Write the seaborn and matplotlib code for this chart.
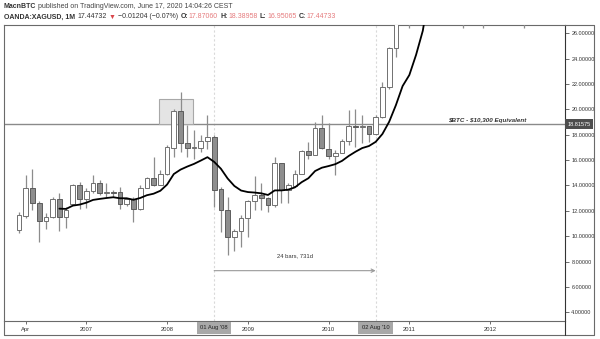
import numpy as np
import pandas as pd
import matplotlib
matplotlib.use("Agg")
import matplotlib.pyplot as plt
import seaborn as sns
from matplotlib.patches import Rectangle
from matplotlib.lines import Line2D
import matplotlib.transforms as mtransforms

# ---------------- data (monthly OANDA:XAGUSD, Mar 2006 .. Dec 2012) ----------------
open_ = [10.45, 11.57, 13.79, 12.61, 11.16, 11.50, 12.90, 11.50, 12.51, 14.01,
         12.96, 13.56, 14.19, 13.43, 13.46, 13.48, 12.51, 12.92, 12.12, 13.83,
         14.58, 14.06, 14.88, 16.99, 19.88, 17.35, 16.96, 16.96, 17.49, 17.83,
         13.69, 12.09, 9.92, 10.40, 11.45, 12.74, 13.22, 13.04, 12.48, 15.77,
         13.67, 13.93, 14.93, 16.70, 16.43, 18.57, 16.90, 16.30, 16.56, 17.51,
         18.67, 18.62, 18.67, 18.04, 19.41, 21.78, 24.81, 28.20, 30.90, 27.90,
         33.90, 37.90, 48.60, 38.40, 35.00, 40.10, 41.50, 30.30, 34.60, 32.70,
         28.10, 33.20, 34.50, 32.40, 31.10, 28.30, 27.60, 27.90, 31.00, 34.50,
         32.30, 32.60]
high = [11.90, 14.80, 15.33, 12.80, 11.82, 13.08, 13.38, 12.29, 14.14, 14.27,
        13.77, 14.80, 14.40, 14.17, 13.67, 13.87, 13.05, 13.08, 14.00, 14.70,
        16.26, 15.19, 17.17, 20.00, 21.38, 18.75, 18.35, 17.96, 19.54, 17.96,
        13.90, 13.08, 10.53, 11.64, 12.82, 14.72, 14.17, 13.10, 16.25, 15.80,
        14.17, 15.19, 16.77, 17.43, 19.01, 19.54, 18.89, 16.77, 17.64, 19.94,
        20.00, 19.54, 18.67, 19.54, 22.17, 24.94, 29.30, 31.00, 31.00, 34.00,
        38.00, 49.80, 48.70, 38.90, 40.80, 44.20, 43.40, 35.50, 35.50, 33.60,
        33.90, 37.50, 35.40, 33.00, 31.70, 29.30, 28.50, 31.00, 35.40, 35.00,
        34.40, 33.90]
low = [10.27, 11.45, 12.03, 9.53, 10.53, 11.40, 10.37, 10.63, 12.45, 12.17,
       12.19, 13.38, 13.22, 13.08, 13.08, 12.17, 12.40, 11.11, 12.07, 13.77,
       13.93, 14.00, 14.80, 16.25, 16.64, 16.22, 16.12, 16.64, 16.90, 12.29,
       10.32, 8.53, 8.87, 9.13, 9.92, 12.03, 12.03, 11.87, 12.27, 12.61,
       12.60, 13.85, 14.88, 16.12, 16.38, 16.85, 16.12, 14.80, 16.54, 17.17,
       17.00, 17.35, 17.43, 17.96, 19.35, 21.60, 24.15, 27.50, 26.45, 27.80,
       32.50, 37.50, 32.30, 33.50, 33.80, 37.90, 26.45, 29.00, 30.30, 26.45,
       27.90, 32.90, 31.80, 30.60, 26.90, 26.45, 26.70, 27.00, 30.90, 31.20,
       31.00, 29.60]
close = [11.64, 13.79, 12.61, 11.19, 11.48, 12.97, 11.50, 12.03, 14.01, 12.96,
         13.56, 14.19, 13.43, 13.46, 13.42, 12.51, 12.96, 12.12, 13.83, 14.58,
         14.06, 14.93, 17.01, 19.88, 17.33, 16.96, 16.98, 17.49, 17.83, 13.67,
         12.09, 9.92, 10.40, 11.45, 12.74, 13.22, 13.04, 12.48, 15.77, 13.61,
         14.00, 14.93, 16.70, 16.43, 18.57, 16.96, 16.30, 16.56, 17.51, 18.67,
         18.62, 18.67, 18.04, 19.41, 21.78, 24.81, 28.20, 30.90, 27.90, 33.90,
         37.90, 48.60, 38.40, 35.00, 40.10, 41.50, 30.30, 34.60, 32.70, 28.10,
         33.20, 34.50, 32.40, 31.10, 28.30, 27.60, 27.90, 31.00, 34.50, 32.30,
         32.60, 30.00]
# smoothed moving average (black line)
ma_line = [np.nan] * 6 + [
    12.17, 12.15, 12.41, 12.49, 12.64, 12.86, 12.94, 13.01, 13.07, 12.99,
    12.99, 12.87, 13.01, 13.23, 13.35, 13.58, 14.07, 14.90, 15.25, 15.49,
    15.70, 15.96, 16.23, 15.86, 15.32, 14.55, 13.96, 13.60, 13.48, 13.44,
    13.38, 13.25, 13.61, 13.61, 13.67, 13.85, 14.26, 14.57, 15.14, 15.40,
    15.53, 15.68, 15.94, 16.33, 16.66, 16.95, 17.11, 17.44, 18.06, 19.02,
    20.33, 21.84, 22.71, 24.30, 26.20, 29.40, 31.80]
ma_line = ma_line + [np.nan] * (len(close) - len(ma_line))

months = pd.period_range("2006-03", periods=len(close), freq="M")
xtick_months = ["2006-04", "2007-01", "2008-01", "2009-01", "2010-01", "2011-01", "2012-01"]
xtick_labels = ["Apr", "2007", "2008", "2009", "2010", "2011", "2012"]
yticks = [4, 6, 8, 10, 12, 14, 16, 18, 20, 22, 24, 26]
level_value = 18.81575
level_text = "$BTC - $10,300 Equivalent"
range_start, range_end = "2008-08", "2010-08"
range_start_label, range_end_label = "01 Aug '08", "02 Aug '10"
range_text = "24 bars, 731d"
range_arrow_price = 7.28
range_text_price = 8.46
box_top_price = 20.80

# ---------------- styling ----------------
sns.set_style("white")
plt.rcParams['font.family'] = ['Liberation Sans', 'DejaVu Sans']

df = pd.DataFrame({"idx": np.arange(len(close)), "open": open_, "high": high,
                   "low": low, "close": close, "ma": ma_line})
pos = {str(m): i for i, m in enumerate(months)}

W, H = 600, 339
fig = plt.figure(figsize=(W / 100, H / 100), dpi=100)
fig.patch.set_facecolor("white")
L, R, T, B = 4, 565, 25, 321
ax = fig.add_axes([L / W, 1 - B / H, (R - L) / W, (B - T) / H])
ax.set_facecolor("white")

# vertical dotted lines of the date range tool
for key in (range_start, range_end):
    ax.axvline(pos[key], color="#d9d9d9", lw=0.8, ls=(0, (2, 2)), zorder=1)

# horizontal level
ax.axhline(level_value, color="#8a8a8a", lw=1.0, zorder=1.5)

# rectangle around 2008 top
ax.add_patch(Rectangle((pos["2007-12"] - 0.15, level_value), 5.05, box_top_price - level_value,
                       facecolor="#e4e4e4", edgecolor="#a8a8a8", lw=0.8, zorder=1.6))

# candles
up = df["close"] >= df["open"]
ax.vlines(df["idx"], df["low"], df["high"], color="#8c8c8c", lw=0.9, zorder=3)
body_bottom = np.minimum(df["open"], df["close"])
body_h = np.maximum(np.abs(df["close"] - df["open"]), 0.04)
ax.bar(df["idx"], body_h, bottom=body_bottom, width=0.7,
       color=np.where(up, "white", "#8e8e8e"),
       edgecolor=np.where(up, "#707070", "#5c5c5c"), linewidth=0.7, zorder=4)

# moving average via seaborn
sns.lineplot(data=df.dropna(subset=["ma"]), x="idx", y="ma", ax=ax, color="black",
             lw=1.3, zorder=5, legend=False)
ax.set_xlabel("")
ax.set_ylabel("")

# date range arrow and text
ax.annotate("", xy=(pos[range_end], range_arrow_price), xytext=(pos[range_start], range_arrow_price),
            arrowprops=dict(arrowstyle="->", color="#9a9a9a", lw=0.8, shrinkA=0, shrinkB=0,
                            mutation_scale=6), zorder=6)
ax.text((pos[range_start] + pos[range_end]) / 2, range_text_price, range_text,
        ha="center", va="center", fontsize=4.2, color="#333333", zorder=6)

# level label
ax.text(69.5, level_value + 0.12, level_text, parse_math=False, ha="center", va="bottom",
        fontsize=4.5, fontweight="bold", fontstyle="italic", color="#333333", zorder=6)

# axes limits and ticks
ax.set_xlim(-2.23, 81.13)
ax.set_ylim(3.31, 26.655)
ax.yaxis.tick_right()
ax.set_yticks(yticks)
ax.set_yticklabels([f"{v:.5f}" for v in yticks])
ax.tick_params(axis="y", which="both", right=True, left=False, length=3, width=0.6,
               color="#555555", labelsize=4, labelcolor="#333333", pad=1.5)
ax.set_xticks([pos[m] for m in xtick_months])
ax.set_xticklabels(xtick_labels)
ax.tick_params(axis="x", which="both", bottom=True, length=2, width=0.6,
               color="#555555", labelsize=4.2, labelcolor="#333333", pad=2.5)
for side, sp in ax.spines.items():
    sp.set_visible(True)
    sp.set_color("#6a6a6a")
    sp.set_linewidth(0.8)
ax.spines["right"].set_color("#333333")
ax.grid(False)

# highlighted labels
tx = mtransforms.blended_transform_factory(ax.transData, ax.transAxes)
for key, lab in ((range_start, range_start_label), (range_end, range_end_label)):
    ax.text(pos[key], -(328 - B) / (B - T), lab, transform=tx, ha="center", va="center",
            fontsize=4.2, color="#222222", clip_on=False, zorder=10,
            bbox=dict(boxstyle="square,pad=0.6", fc="#a8a8a8", ec="none"))
ty = mtransforms.blended_transform_factory(ax.transAxes, ax.transData)
ax.text(1.004, level_value, f"{level_value:.5f}", transform=ty, ha="left", va="center",
        fontsize=4, color="white", clip_on=False, zorder=10,
        bbox=dict(boxstyle="square,pad=0.45", fc="#4d4d4d", ec="none"))

# outer frame
def fline(x0, y0, x1, y1, c="#6a6a6a"):
    fig.add_artist(Line2D([x0 / W, x1 / W], [1 - y0 / H, 1 - y1 / H],
                          transform=fig.transFigure, color=c, lw=0.8))
fline(L, 335, 594, 335)
fline(594, T, 594, 335)
fline(R, T, 594, T)
fline(L, B, L, 335)
fline(R, B, R, 335, "#333333")

# header text
fig.canvas.draw()
renderer = fig.canvas.get_renderer()

def segments(y_px, segs):
    x = 4.0
    for text, color, weight, gap in segs:
        t = fig.text(x / W, 1 - y_px / H, text, color=color, fontweight=weight, fontsize=5,
                     va="center", ha="left")
        bb = t.get_window_extent(renderer)
        x = bb.x1 + gap

pink = "#e57b7d"
segments(6, [("MacnBTC", "#333333", "bold", 1.8),
             ("published on TradingView.com, June 17, 2020 14:04:26 CEST", "#444444", "normal", 0)])
segments(17, [("OANDA:XAGUSD, 1M", "#333333", "bold", 2.5),
              ("17.44732", "#333333", "normal", 2),
              ("\u25BC", "#d9454a", "normal", 2),
              ("\u22120.01204 (\u22120.07%)", "#333333", "normal", 2.5),
              ("O:", "#333333", "bold", 0.5), ("17.87060", pink, "normal", 2.5),
              ("H:", "#333333", "bold", 0.5), ("18.38958", pink, "normal", 2.5),
              ("L:", "#333333", "bold", 0.5), ("16.95065", pink, "normal", 2.5),
              ("C:", "#333333", "bold", 0.5), ("17.44733", pink, "normal", 0)])

fig.savefig("out.png", dpi=100, facecolor="white")
